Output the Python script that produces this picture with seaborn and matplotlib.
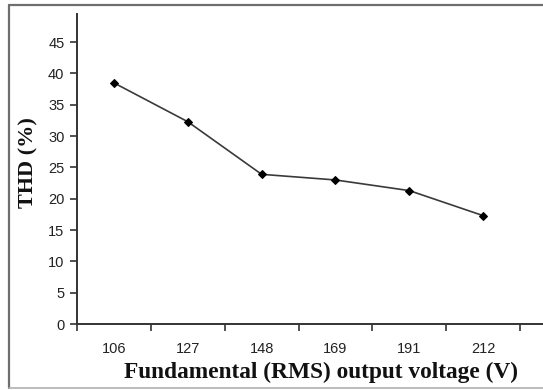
import numpy as np
import pandas as pd
import matplotlib
matplotlib.use("Agg")
import matplotlib.pyplot as plt
import seaborn as sns
from matplotlib.lines import Line2D

# Data
voltages = ["106", "127", "148", "169", "191", "212"]
thd = [38.5, 32.3, 23.9, 23.0, 21.3, 17.3]
y_ticks = [0, 5, 10, 15, 20, 25, 30, 35, 40, 45]

sns.set_theme(style="white")
plt.rcParams["font.family"] = ["Liberation Sans", "DejaVu Sans"]

W, H = 543, 390
fig = plt.figure(figsize=(W / 100, H / 100), dpi=100)
ax = fig.add_axes([77 / W, 1 - 324 / H, 1 - 77 / W, (324 - 14) / H])

df = pd.DataFrame({"voltage": voltages, "thd": thd})
sns.lineplot(data=df, x="voltage", y="thd", sort=False, ax=ax,
             color="#3a3a3a", linewidth=1.2, marker="D", markersize=4.3,
             markerfacecolor="black", markeredgecolor="black")

n = len(voltages)
ax.set_xlim(-0.5, 5.81)
ax.set_ylim(0, 49.5)

# category boundary tick marks
ax.set_xticks(np.arange(n + 1) - 0.5)
ax.set_xticklabels([""] * (n + 1))
ax.set_xticks(np.arange(n), minor=True)
ax.set_xticklabels(voltages, minor=True)
ax.tick_params(axis="x", which="major", direction="out", length=5, width=1.2,
               color="#333333", bottom=True)
ax.tick_params(axis="x", which="minor", length=0, pad=13, labelsize=10.5,
               labelcolor="#222222")
ax.set_yticks(y_ticks)
ax.set_yticklabels([str(v) for v in y_ticks])
ax.tick_params(axis="y", direction="out", length=5, width=1.2, color="#333333",
               left=True, pad=4, labelsize=10.5, labelcolor="#222222")

for s in ["top", "right"]:
    ax.spines[s].set_visible(False)
for s in ["left", "bottom"]:
    ax.spines[s].set_color("#333333")
    ax.spines[s].set_linewidth(1.4)
ax.grid(False)

ax.set_xlabel("")
ax.set_ylabel("")
serif = ["Liberation Serif", "DejaVu Serif"]
fig.text(321 / W, 1 - 372 / H, "Fundamental (RMS) output voltage (V)",
         ha="center", va="center", fontsize=16.8, fontweight="bold",
         family=serif, color="#111111")
fig.text(28 / W, 1 - 163 / H, "THD (%)", ha="center", va="center",
         rotation=90, fontsize=16, fontweight="bold", family=serif,
         color="#111111")

# figure frame
def fl(x0, y0, x1, y1, c, lw):
    fig.add_artist(Line2D([x0 / W, x1 / W], [1 - y0 / H, 1 - y1 / H],
                          transform=fig.transFigure, color=c, linewidth=lw))

fl(9, 5, 543, 5, "#6e6e6e", 1.6)
fl(9, 5, 9, 388, "#6e6e6e", 1.6)
fl(9, 388, 543, 388, "#b0b0b0", 1.2)

fig.savefig("out.png", dpi=100)
